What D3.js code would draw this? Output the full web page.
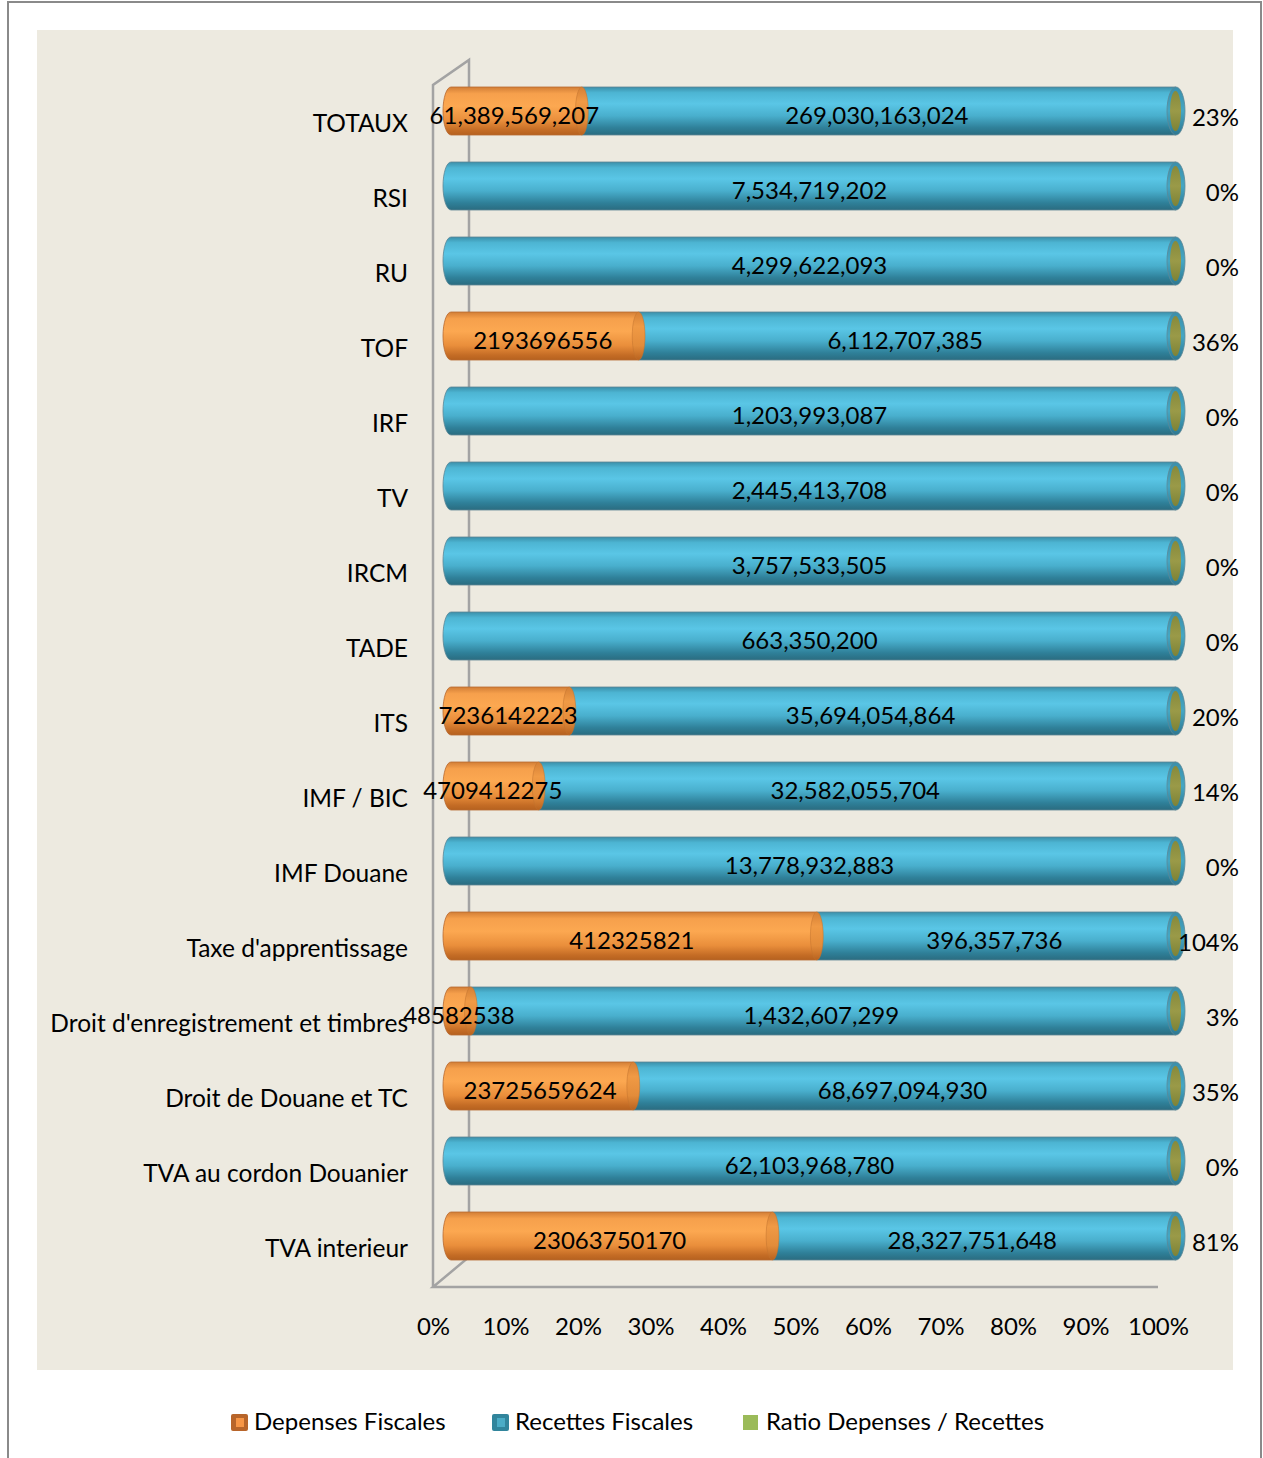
<!DOCTYPE html>
<html>
<head>
<meta charset="utf-8">
<script src="https://cdn.jsdelivr.net/npm/d3@7"></script>
<style>
  html, body { margin: 0; padding: 0; background: #ffffff; }
  svg { display: block; }
  text { font-family: Lato, "Open Sans", sans-serif; fill: #000; }
</style>
</head>
<body>
<svg id="chart" width="1263" height="1458"></svg>
<script>
// ---------------- DATA ----------------
const categories = [
  "TOTAUX", "RSI", "RU", "TOF", "IRF", "TV", "IRCM", "TADE", "ITS",
  "IMF / BIC", "IMF Douane", "Taxe d'apprentissage",
  "Droit d'enregistrement et timbres", "Droit de Douane et TC",
  "TVA au cordon Douanier", "TVA interieur"
];
const depenses = [
  61389569207, 0, 0, 2193696556, 0, 0, 0, 0, 7236142223,
  4709412275, 0, 412325821, 48582538, 23725659624, 0, 23063750170
];
const recettes = [
  269030163024, 7534719202, 4299622093, 6112707385, 1203993087,
  2445413708, 3757533505, 663350200, 35694054864, 32582055704,
  13778932883, 396357736, 1432607299, 68697094930, 62103968780,
  28327751648
];
const ratios = [
  0.23, 0, 0, 0.36, 0, 0, 0, 0, 0.20, 0.14, 0, 1.04, 0.03, 0.35, 0, 0.81
];
const seriesNames = ["Depenses Fiscales", "Recettes Fiscales", "Ratio Depenses / Recettes"];
const tickValues = [0, 0.1, 0.2, 0.3, 0.4, 0.5, 0.6, 0.7, 0.8, 0.9, 1.0];

// ---------------- LAYOUT ----------------
const svg = d3.select("#chart");
const FS = 24;

// outer frame + plot background
svg.append("rect").attr("x", 8).attr("y", 2).attr("width", 1253).attr("height", 1480)
  .attr("fill", "#fff").attr("stroke", "#8a8a8a").attr("stroke-width", 2);
svg.append("rect").attr("x", 37).attr("y", 30).attr("width", 1196).attr("height", 1340)
  .attr("fill", "#edeae0");

const defs = svg.append("defs");
function vGrad(id, stops) {
  const g = defs.append("linearGradient").attr("id", id)
    .attr("x1", 0).attr("y1", 0).attr("x2", 0).attr("y2", 1);
  stops.forEach(s => g.append("stop").attr("offset", s[0]).attr("stop-color", s[1]));
}
vGrad("gBlue", [[0, "#3b8fa9"], [0.12, "#4db5d3"], [0.35, "#5ac6e6"], [0.6, "#49afcd"], [0.85, "#2f8099"], [1, "#2a6c80"]]);
vGrad("gOrange", [[0, "#d27e36"], [0.14, "#f6a04c"], [0.4, "#fca851"], [0.7, "#e98e3b"], [0.9, "#c46c25"], [1, "#b5611f"]]);
vGrad("gOrangeCap", [[0, "#d47f35"], [0.3, "#f09a45"], [0.7, "#e38c3a"], [1, "#b8621f"]]);
vGrad("gBlueCap", [[0, "#3a8fab"], [0.5, "#45a7c4"], [1, "#2d7892"]]);
vGrad("gOlive", [[0, "#868a3c"], [0.5, "#9a9a48"], [1, "#7d8236"]]);

// scales
const depth = 18; // 3D offset of bars relative to floor front edge
const x = d3.scaleLinear().domain([0, 1]).range([433, 1158]);
const xb = d3.scaleLinear().domain([0, 1]).range([433 + depth, 1158 + depth]);
const y = d3.scaleBand().domain(categories).range([73.5, 1273.5]).padding(0);
const barH = y.bandwidth() * 0.64;
const rx = 8;
const capRx = rx * 0.8;

// 3D walls / floor lines
const wall = svg.append("g").attr("stroke", "#a3a3a3").attr("stroke-width", 2.5).attr("fill", "none");
wall.append("path").attr("d", `M${x(0)},1287 L${x(0)},85 L${x(0) + 36},60 L${x(0) + 36},1257 L${x(0)},1287 L${x(1)},1287`);

// rows
const rows = categories.map((c, i) => {
  const total = depenses[i] + recettes[i] + ratios[i];
  return {
    cat: c, dep: depenses[i], rec: recettes[i], ratio: ratios[i],
    d1: depenses[i] / total
  };
});

function bodyPath(xa, xb2, cy, h, bulge) {
  const t = cy - h / 2, b = cy + h / 2;
  if (bulge) {
    return `M${xa},${t} A${rx},${h / 2} 0 0 0 ${xa},${b} L${xb2},${b} L${xb2},${t} Z`;
  }
  return `M${xa},${t} L${xa},${b} L${xb2},${b} L${xb2},${t} Z`;
}

const fmtComma = d3.format(",");
const fmtPlain = d3.format("d");
const fmtPct = d3.format(".0%");

const g = svg.append("g");
rows.forEach(r => {
  const cy = y(r.cat) + y.bandwidth() / 2;
  const row = g.append("g");
  const xd = Math.max(xb(r.d1) - capRx * 0.6, xb(0) + 2);
  // recettes body (blue)
  row.append("path")
    .attr("d", bodyPath(r.dep > 0 ? xd : xb(0), xb(1), cy, barH, r.dep === 0))
    .attr("fill", "url(#gBlue)").attr("stroke", "#5d8795").attr("stroke-width", 0.8);
  // end cap (ratio series face)
  row.append("ellipse").attr("cx", xb(1)).attr("cy", cy).attr("rx", rx + 1).attr("ry", barH / 2)
    .attr("fill", "url(#gBlueCap)").attr("stroke", "#5d8795").attr("stroke-width", 0.8);
  row.append("ellipse").attr("cx", xb(1) - 0.5).attr("cy", cy).attr("rx", rx - 2.5).attr("ry", barH / 2 - 4)
    .attr("fill", "url(#gOlive)");
  // depenses body (orange)
  if (r.dep > 0) {
    row.append("path")
      .attr("d", bodyPath(xb(0), xd, cy, barH, true))
      .attr("fill", "url(#gOrange)").attr("stroke", "#b86a30").attr("stroke-width", 0.8);
    row.append("ellipse").attr("cx", xd).attr("cy", cy).attr("rx", capRx).attr("ry", barH / 2)
      .attr("fill", "url(#gOrangeCap)").attr("stroke", "#c0732f").attr("stroke-width", 0.5);
  }
  // labels
  if (r.dep > 0) {
    row.append("text")
      .attr("x", (xb(0) + xb(r.d1)) / 2 - 4).attr("y", cy + 7)
      .attr("text-anchor", "middle").attr("dominant-baseline", "middle")
      .attr("font-size", FS)
      .text(r.cat === "TOTAUX" ? fmtComma(r.dep) : fmtPlain(r.dep));
  }
  row.append("text")
    .attr("x", (xb(r.d1) + xb(1)) / 2 - 4).attr("y", cy + 7)
    .attr("text-anchor", "middle").attr("dominant-baseline", "middle")
    .attr("font-size", FS)
    .text(fmtComma(r.rec));
  row.append("text")
    .attr("x", 1239).attr("y", cy + 9)
    .attr("text-anchor", "end").attr("dominant-baseline", "middle")
    .attr("font-size", FS)
    .text(fmtPct(r.ratio));
  // category label
  svg.append("text")
    .attr("x", 408).attr("y", cy + 15)
    .attr("text-anchor", "end").attr("dominant-baseline", "middle")
    .attr("font-size", 24.5)
    .text(r.cat);
});

// x axis tick labels
const axis = d3.axisBottom(x).tickValues(tickValues).tickFormat(d3.format(".0%")).tickSize(0).tickPadding(0);
const ax = svg.append("g").attr("transform", "translate(0,1318)").call(axis);
ax.select(".domain").remove();
ax.selectAll("text").attr("font-size", FS).attr("font-family", "Lato, 'Open Sans', sans-serif").attr("fill", "#000");

// legend
const legendItems = [
  { name: seriesNames[0], fill: "#f79646", stroke: "#b8652a", x: 231 },
  { name: seriesNames[1], fill: "#4bacc6", stroke: "#31859c", x: 492 },
  { name: seriesNames[2], fill: "#9bbb59", stroke: "#9bbb59", x: 743 }
];
const lg = svg.append("g");
legendItems.forEach((it, i) => {
  if (i < 2) {
    lg.append("rect").attr("x", it.x).attr("y", 1414).attr("width", 17).attr("height", 17)
      .attr("rx", 2).attr("fill", it.stroke);
    lg.append("rect").attr("x", it.x + 5).attr("y", 1418).attr("width", 8).attr("height", 9)
      .attr("fill", it.fill);
  } else {
    lg.append("rect").attr("x", it.x).attr("y", 1415).attr("width", 15).attr("height", 15)
      .attr("fill", it.fill);
  }
  lg.append("text").attr("x", it.x + 23).attr("y", 1424)
    .attr("dominant-baseline", "middle").attr("font-size", FS)
    .text(it.name);
});
</script>
</body>
</html>
